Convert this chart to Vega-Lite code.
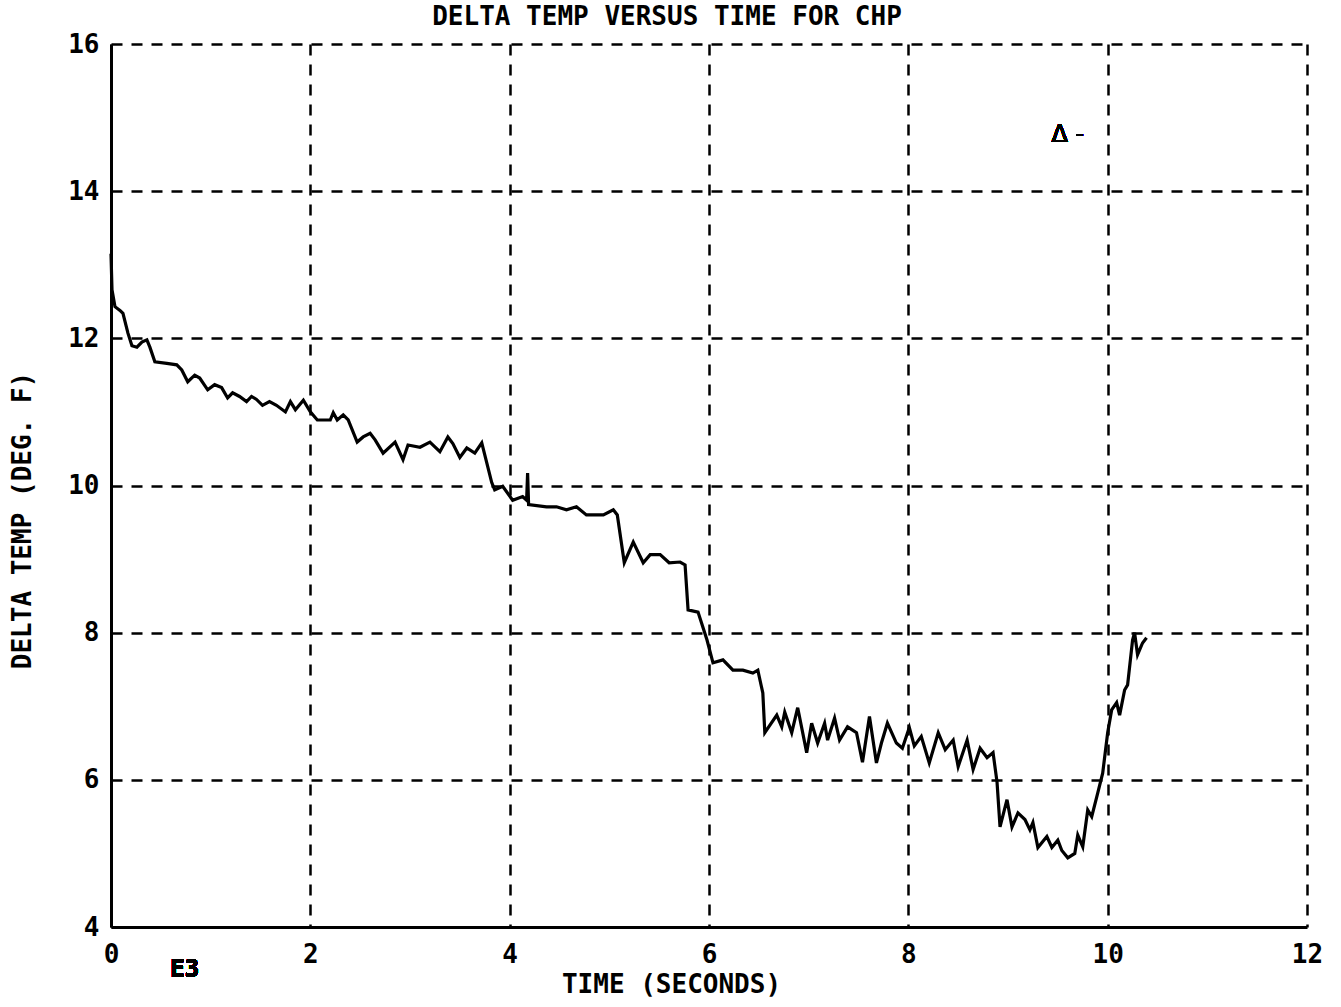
{
  "$schema": "https://vega.github.io/schema/vega-lite/v6.json",
  "autosize": "none",
  "width": 1196,
  "height": 883,
  "padding": {"left": 111, "top": 44, "right": 34, "bottom": 80},
  "background": "white",
  "config": {
    "view": {"stroke": null},
    "font": "DejaVu Sans Mono"
  },
  "title": {
    "text": "DELTA TEMP VERSUS TIME FOR CHP",
    "font": "DejaVu Sans Mono",
    "fontSize": 26,
    "fontWeight": "bold",
    "color": "black",
    "anchor": "middle",
    "dx": -42,
    "offset": 1
  },
  "data": {
    "values": [
      {"t":0.0,"dt":13.15},{"t":0.01,"dt":12.66},{"t":0.04,"dt":12.43},{"t":0.09,"dt":12.38},{"t":0.12,"dt":12.34},
      {"t":0.17,"dt":12.07},{"t":0.21,"dt":11.9},{"t":0.26,"dt":11.88},{"t":0.31,"dt":11.95},{"t":0.36,"dt":11.98},
      {"t":0.39,"dt":11.88},{"t":0.44,"dt":11.68},{"t":0.56,"dt":11.66},{"t":0.66,"dt":11.64},{"t":0.71,"dt":11.57},
      {"t":0.77,"dt":11.41},{"t":0.84,"dt":11.5},{"t":0.89,"dt":11.46},{"t":0.97,"dt":11.3},{"t":1.04,"dt":11.37},
      {"t":1.11,"dt":11.33},{"t":1.17,"dt":11.19},{"t":1.22,"dt":11.26},{"t":1.29,"dt":11.21},{"t":1.36,"dt":11.14},
      {"t":1.41,"dt":11.21},{"t":1.46,"dt":11.17},{"t":1.52,"dt":11.09},{"t":1.59,"dt":11.14},{"t":1.66,"dt":11.09},
      {"t":1.75,"dt":11.0},{"t":1.8,"dt":11.14},{"t":1.85,"dt":11.03},{"t":1.93,"dt":11.16},{"t":2.0,"dt":11.0},
      {"t":2.07,"dt":10.89},{"t":2.2,"dt":10.89},{"t":2.23,"dt":10.99},{"t":2.27,"dt":10.89},{"t":2.33,"dt":10.96},
      {"t":2.38,"dt":10.89},{"t":2.47,"dt":10.59},{"t":2.53,"dt":10.66},{"t":2.6,"dt":10.71},{"t":2.65,"dt":10.62},
      {"t":2.73,"dt":10.44},{"t":2.85,"dt":10.59},{"t":2.93,"dt":10.35},{"t":2.98,"dt":10.55},{"t":3.1,"dt":10.52},
      {"t":3.2,"dt":10.59},{"t":3.3,"dt":10.46},{"t":3.38,"dt":10.66},{"t":3.43,"dt":10.57},{"t":3.5,"dt":10.38},
      {"t":3.57,"dt":10.51},{"t":3.65,"dt":10.44},{"t":3.72,"dt":10.58},{"t":3.82,"dt":10.04},{"t":3.85,"dt":9.94},
      {"t":3.93,"dt":9.99},{"t":4.03,"dt":9.8},{"t":4.13,"dt":9.85},{"t":4.17,"dt":9.8},{"t":4.18,"dt":10.17},
      {"t":4.19,"dt":9.74},{"t":4.37,"dt":9.71},{"t":4.47,"dt":9.71},{"t":4.57,"dt":9.67},{"t":4.67,"dt":9.71},
      {"t":4.77,"dt":9.6},{"t":4.94,"dt":9.6},{"t":5.04,"dt":9.67},{"t":5.08,"dt":9.6},{"t":5.15,"dt":8.95},
      {"t":5.24,"dt":9.23},{"t":5.34,"dt":8.95},{"t":5.41,"dt":9.06},{"t":5.51,"dt":9.06},{"t":5.6,"dt":8.95},
      {"t":5.71,"dt":8.96},{"t":5.76,"dt":8.92},{"t":5.79,"dt":8.31},{"t":5.89,"dt":8.28},{"t":5.98,"dt":7.9},
      {"t":6.04,"dt":7.59},{"t":6.14,"dt":7.63},{"t":6.24,"dt":7.49},{"t":6.34,"dt":7.49},{"t":6.44,"dt":7.45},
      {"t":6.49,"dt":7.49},{"t":6.54,"dt":7.18},{"t":6.56,"dt":6.64},{"t":6.68,"dt":6.88},{"t":6.73,"dt":6.72},
      {"t":6.76,"dt":6.92},{"t":6.83,"dt":6.64},{"t":6.89,"dt":6.98},{"t":6.98,"dt":6.37},{"t":7.03,"dt":6.77},
      {"t":7.09,"dt":6.5},{"t":7.16,"dt":6.77},{"t":7.19,"dt":6.54},{"t":7.26,"dt":6.84},{"t":7.31,"dt":6.54},
      {"t":7.39,"dt":6.72},{"t":7.48,"dt":6.64},{"t":7.54,"dt":6.24},{"t":7.61,"dt":6.86},{"t":7.68,"dt":6.23},
      {"t":7.73,"dt":6.5},{"t":7.79,"dt":6.77},{"t":7.88,"dt":6.5},{"t":7.94,"dt":6.43},{"t":8.01,"dt":6.71},
      {"t":8.06,"dt":6.46},{"t":8.13,"dt":6.59},{"t":8.21,"dt":6.23},{"t":8.3,"dt":6.64},{"t":8.37,"dt":6.41},
      {"t":8.45,"dt":6.54},{"t":8.5,"dt":6.18},{"t":8.59,"dt":6.54},{"t":8.65,"dt":6.14},{"t":8.72,"dt":6.43},
      {"t":8.79,"dt":6.3},{"t":8.85,"dt":6.37},{"t":8.89,"dt":5.97},{"t":8.92,"dt":5.36},{"t":8.99,"dt":5.73},
      {"t":9.04,"dt":5.36},{"t":9.1,"dt":5.55},{"t":9.17,"dt":5.46},{"t":9.22,"dt":5.32},{"t":9.25,"dt":5.42},
      {"t":9.3,"dt":5.08},{"t":9.39,"dt":5.23},{"t":9.44,"dt":5.08},{"t":9.5,"dt":5.18},{"t":9.54,"dt":5.04},
      {"t":9.6,"dt":4.94},{"t":9.67,"dt":5.0},{"t":9.7,"dt":5.25},{"t":9.75,"dt":5.09},{"t":9.8,"dt":5.59},
      {"t":9.84,"dt":5.5},{"t":9.9,"dt":5.82},{"t":9.95,"dt":6.09},{"t":10.0,"dt":6.64},{"t":10.04,"dt":6.95},
      {"t":10.09,"dt":7.05},{"t":10.12,"dt":6.88},{"t":10.17,"dt":7.22},{"t":10.2,"dt":7.29},{"t":10.25,"dt":7.9},
      {"t":10.27,"dt":8.0},{"t":10.3,"dt":7.7},{"t":10.35,"dt":7.86},{"t":10.39,"dt":7.93}
    ]
  },
  "layer": [
    {
      "mark": {"type": "line", "color": "black", "strokeWidth": 3.2, "interpolate": "linear"},
      "encoding": {
        "x": {
          "field": "t", "type": "quantitative",
          "scale": {"domain": [0, 12], "nice": false, "zero": false},
          "axis": {
            "values": [0, 2, 4, 6, 8, 10, 12],
            "format": "d",
            "title": "TIME (SECONDS)",
            "titleFont": "DejaVu Sans Mono", "titleFontSize": 26, "titleFontWeight": "bold",
            "titleColor": "black", "titlePadding": 4, "titleX": 560,
            "labelFont": "DejaVu Sans Mono", "labelFontSize": 26, "labelFontWeight": "bold", "labelColor": "black",
            "labelPadding": 14, "labelFlush": false,
            "domain": true, "domainColor": "black", "domainWidth": 3,
            "ticks": false,
            "grid": true, "gridColor": "black", "gridWidth": 2.5, "gridDash": [11, 9], "gridOpacity": 1
          }
        },
        "y": {
          "field": "dt", "type": "quantitative",
          "scale": {"domain": [4, 16], "nice": false, "zero": false},
          "axis": {
            "values": [4, 6, 8, 10, 12, 14, 16],
            "format": "d",
            "title": "DELTA TEMP (DEG. F)",
            "titleFont": "DejaVu Sans Mono", "titleFontSize": 26, "titleFontWeight": "bold",
            "titleColor": "black", "titlePadding": 32, "titleY": 476,
            "labelFont": "DejaVu Sans Mono", "labelFontSize": 26, "labelFontWeight": "bold", "labelColor": "black",
            "labelPadding": 12, "labelFlush": false,
            "domain": true, "domainColor": "black", "domainWidth": 3,
            "ticks": false,
            "grid": true, "gridColor": "black", "gridWidth": 2.5, "gridDash": [11, 9], "gridOpacity": 1
          }
        }
      }
    },
    {
      "mark": {"type": "text", "text": "E3", "font": "DejaVu Sans Mono", "fontSize": 24, "fontWeight": "bold", "color": "black", "clip": false},
      "encoding": {"x": {"datum": 0.74}, "y": {"datum": 3.42}}
    },
    {
      "mark": {"type": "text", "text": "Δ  -", "font": "DejaVu Sans", "fontSize": 24, "fontWeight": "normal", "color": "black"},
      "encoding": {"x": {"datum": 9.6}, "y": {"datum": 14.76}}
    }
  ]
}
